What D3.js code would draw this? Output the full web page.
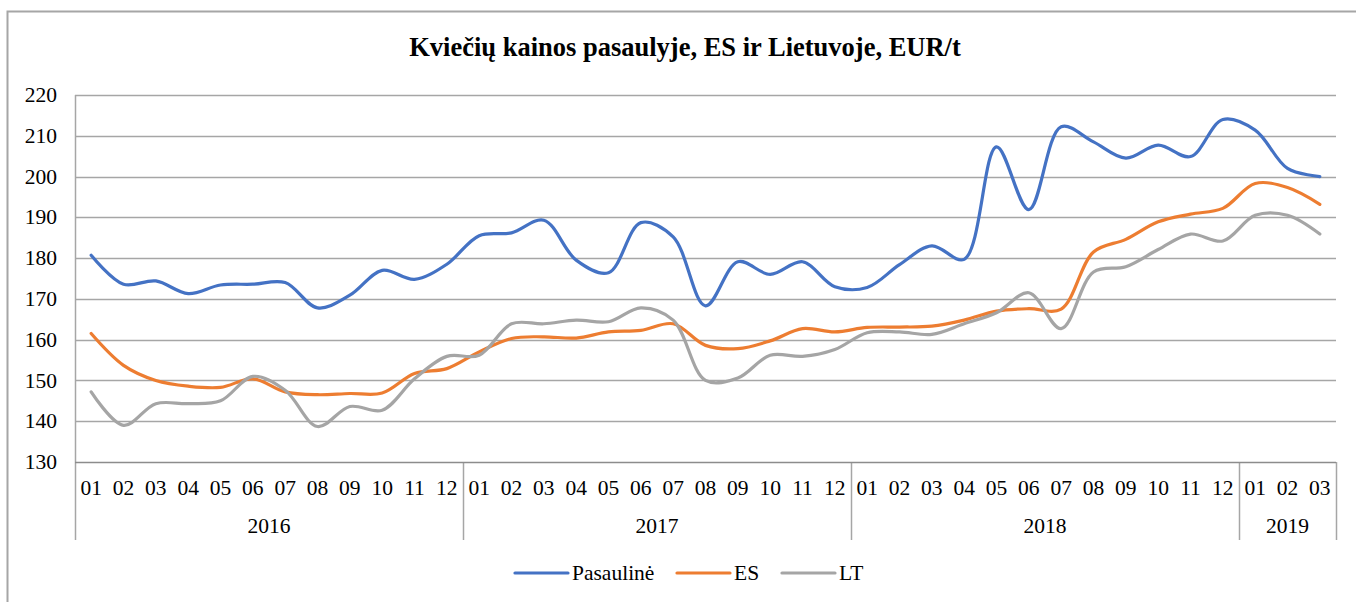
<!DOCTYPE html>
<html>
<head>
	<meta charset="utf-8">
	<title>Kviečių kainos</title>
	<script src="https://cdn.jsdelivr.net/npm/d3@7"></script>
	<style>
		body {
			margin: 0;
			background: #fff;
		}
	</style>
</head>
<body>
	<div id="chart"></div>
	<script>

	// data

	const years  = ["2016", "2017", "2018", "2019"];
	const months = [
		"01","02","03","04","05","06","07","08","09","10","11","12",
		"01","02","03","04","05","06","07","08","09","10","11","12",
		"01","02","03","04","05","06","07","08","09","10","11","12",
		"01","02","03"
	];
	const monthYear = [
		"2016","2016","2016","2016","2016","2016","2016","2016","2016","2016","2016","2016",
		"2017","2017","2017","2017","2017","2017","2017","2017","2017","2017","2017","2017",
		"2018","2018","2018","2018","2018","2018","2018","2018","2018","2018","2018","2018",
		"2019","2019","2019"
	];
	const pasauline = [
		180.7, 173.6, 174.4, 171.3, 173.4, 173.6, 174.0, 167.8, 170.9, 177.0, 174.8, 178.5,
		185.5, 186.2, 189.3, 179.5, 176.4, 188.7, 185.2, 168.3, 179.1, 176.0, 179.1, 173.0,
		172.8, 178.4, 183.0, 179.7, 207.3, 191.9, 212.2, 208.5, 204.5, 207.7, 204.9, 214.0,
		211.4, 202.0, 200.0
	];
	const es = [
		161.5, 153.7, 150.0, 148.6, 148.3, 150.4, 147.2, 146.5, 146.8, 146.9, 151.7, 152.9,
		157.0, 160.3, 160.7, 160.4, 161.9, 162.3, 163.9, 158.6, 157.8, 159.7, 162.7, 161.9,
		163.0, 163.1, 163.3, 164.8, 167.0, 167.6, 167.5, 181.5, 184.6, 188.9, 190.8, 192.2,
		198.3, 197.3, 193.2
	];
	const lt = [
		147.2, 139.0, 144.3, 144.3, 145.0, 151.0, 147.6, 138.7, 143.6, 142.7, 150.4, 155.9,
		156.2, 163.9, 163.9, 164.8, 164.4, 167.8, 164.8, 150.0, 150.6, 156.2, 155.9, 157.6,
		161.7, 161.9, 161.3, 163.9, 166.6, 171.5, 162.7, 176.6, 177.9, 182.1, 185.9, 184.2,
		190.5, 190.5, 185.9
	];
	const yTicks = [130, 140, 150, 160, 170, 180, 190, 200, 210, 220];

	const seriesNames  = ["Pasaulinė", "ES", "LT"];
	const seriesValues = [pasauline, es, lt];
	const colors       = ["#4472C4", "#ED7D31", "#A5A5A5"];

	// layout

	const width    = 1356;
	const height   = 602;
	const margin   = {left: 75, right: 20, top: 95, bottom: 140};
	const font     = '"Liberation Serif", "Times New Roman", serif';
	const fontSize = "21.5px";

	const svg = d3.select("#chart")
		.append("svg")
		.attr("width", width)
		.attr("height", height);

	// outer frame (cropped at right and bottom)
	svg.append("path")
		.attr("d", `M7.5,${height + 5}V11.5H${width + 5}`)
		.attr("fill", "none")
		.attr("stroke", "#a6a6a6")
		.attr("stroke-width", 2);

	const x = d3.scaleBand()
		.domain(d3.range(months.length))
		.range([margin.left, width - margin.right])
		.paddingInner(0)
		.paddingOuter(0);

	const y = d3.scaleLinear()
		.domain([130, 220])
		.range([height - margin.bottom, margin.top]);

	const x0 = margin.left, x1 = width - margin.right;
	const yBottom = y(130);

	// gridlines
	svg.append("g")
		.selectAll("line")
		.data(yTicks.filter(d => d !== 130))
		.join("line")
		.attr("x1", x0)
		.attr("x2", x1)
		.attr("y1", d => Math.round(y(d)) + 0.5)
		.attr("y2", d => Math.round(y(d)) + 0.5)
		.attr("stroke", "#a6a6a6")
		.attr("stroke-width", 1.5);

	// y tick labels
	svg.append("g")
		.selectAll("text")
		.data(yTicks)
		.join("text")
		.style("font-family", font)
		.style("font-size", fontSize)
		.attr("text-anchor", "end")
		.attr("x", 57)
		.attr("y", d => y(d))
		.attr("dy", "0.33em")
		.text(d => d);

	// category axis: month labels and year groups
	const yearGroups = d3.groups(d3.range(months.length), i => monthYear[i]);
	const sepX = [x0];
	yearGroups.forEach(([, idx]) => sepX.push(x(idx[idx.length - 1]) + x.bandwidth()));

	svg.append("g")
		.selectAll("line")
		.data(sepX)
		.join("line")
		.attr("x1", d => Math.round(d) + 0.5)
		.attr("x2", d => Math.round(d) + 0.5)
		.attr("y1", d => d === x0 ? margin.top : yBottom)
		.attr("y2", yBottom + 78)
		.attr("stroke", "#a6a6a6")
		.attr("stroke-width", 1.5);

	svg.append("line")
		.attr("x1", x0)
		.attr("x2", x1)
		.attr("y1", Math.round(yBottom) + 0.5)
		.attr("y2", Math.round(yBottom) + 0.5)
		.attr("stroke", "#8c8c8c")
		.attr("stroke-width", 1.5);

	svg.append("g")
		.selectAll("text")
		.data(months)
		.join("text")
		.style("font-family", font)
		.style("font-size", fontSize)
		.attr("text-anchor", "middle")
		.attr("x", (d, i) => x(i) + x.bandwidth() / 2)
		.attr("y", yBottom + 26)
		.attr("dy", "0.33em")
		.text(d => d);

	svg.append("g")
		.selectAll("text")
		.data(yearGroups)
		.join("text")
		.style("font-family", font)
		.style("font-size", fontSize)
		.attr("text-anchor", "middle")
		.attr("x", ([, idx]) => (x(idx[0]) + x(idx[idx.length - 1]) + x.bandwidth()) / 2)
		.attr("y", yBottom + 64)
		.attr("dy", "0.33em")
		.text(([k]) => k);

	// lines
	const line = d3.line()
		.x((d, i) => x(i) + x.bandwidth() / 2)
		.y(d => y(d))
		.curve(d3.curveCatmullRom.alpha(0.5));

	svg.append("g")
		.selectAll("path")
		.data(seriesValues)
		.join("path")
		.attr("fill", "none")
		.attr("stroke", (d, i) => colors[i])
		.attr("stroke-width", 3.2)
		.attr("stroke-linejoin", "round")
		.attr("stroke-linecap", "round")
		.attr("d", line);

	// title
	svg.append("text")
		.style("font-family", font)
		.style("font-size", "26.5px")
		.style("font-weight", "bold")
		.attr("x", 685)
		.attr("y", 47)
		.attr("dy", "0.35em")
		.attr("text-anchor", "middle")
		.text("Kviečių kainos pasaulyje, ES ir Lietuvoje, EUR/t");

	// legend
	const legendX = [515, 677, 782];
	const legend = svg.append("g")
		.selectAll("g")
		.data(seriesNames)
		.join("g")
		.attr("transform", (d, i) => `translate(${legendX[i]},573)`);

	legend.append("line")
		.attr("x1", 0)
		.attr("x2", 53)
		.attr("stroke", (d, i) => colors[i])
		.attr("stroke-width", 3.2)
		.attr("stroke-linecap", "round");

	legend.append("text")
		.style("font-family", font)
		.style("font-size", fontSize)
		.attr("x", 57)
		.attr("dy", "0.33em")
		.text(d => d);

	</script>
</body>
</html>
